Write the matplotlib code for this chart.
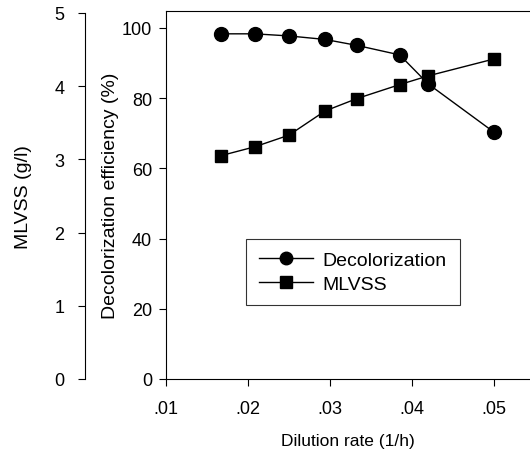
import matplotlib
matplotlib.use("Agg")
import matplotlib.pyplot as plt

plt.rcParams['font.family'] = ['Liberation Sans', 'DejaVu Sans']

dilution = [0.0167, 0.0208, 0.025, 0.0294, 0.0333, 0.0385, 0.042, 0.05]
decolorization = [98.3, 98.3, 97.7, 96.7, 95.0, 92.3, 84.0, 70.3]
mlvss = [3.05, 3.17, 3.33, 3.66, 3.83, 4.02, 4.14, 4.37]

x_ticks = [0.01, 0.02, 0.03, 0.04, 0.05]
x_ticklabels = ['.01', '.02', '.03', '.04', '.05']
dec_ticks = [0, 20, 40, 60, 80, 100]
ml_ticks = [0, 1, 2, 3, 4, 5]

fig = plt.figure(figsize=(5.3, 4.56), dpi=100)

W, H = 530, 456
ax = fig.add_axes([166 / W, (H - 380) / H, (530 - 166) / W, (380 - 12) / H])
ax2 = fig.add_axes([85 / W, (H - 380) / H, 0.0001, (380 - 14) / H])

ml_ylim = (0, 5)
dec_ylim = (0, 104.8)
ax.set_xlim(0.01, 0.0544)
ax.set_ylim(*dec_ylim)
ax2.set_ylim(*ml_ylim)

# MLVSS drawn on the main axes, mapped through the MLVSS axis scale
ml_top_in_dec = 100 * (380 - 14) / (380 - 29)
ml_as_dec = [(v - ml_ylim[0]) / (ml_ylim[1] - ml_ylim[0]) * ml_top_in_dec for v in mlvss]

ax.plot(dilution, decolorization, '-', color='black', lw=1.0, marker='o', ms=10,
        label='Decolorization')
ax.plot(dilution, ml_as_dec, '-', color='black', lw=1.0, marker='s', ms=9,
        label='MLVSS')

ax.set_xticks(x_ticks)
ax.set_xticklabels(x_ticklabels)
ax.set_yticks(dec_ticks)
ax.spines['right'].set_visible(False)
ax.spines['top'].set_linewidth(0.8)
ax.tick_params(axis='both', direction='out', length=5, width=0.8, labelsize=13)
ax.tick_params(axis='x', pad=10)
ax.tick_params(axis='y', pad=5)
ax.set_ylabel('Decolorization efficiency (%)', fontsize=14, labelpad=2)
ax.set_xlabel('Dilution rate (1/h)', fontsize=12.5, labelpad=12)

ax2.set_yticks(ml_ticks)
ax2.set_xticks([])
for s in ['right', 'top', 'bottom']:
    ax2.spines[s].set_visible(False)
ax2.tick_params(direction='out', length=5, width=0.8, labelsize=13, pad=10)
ax2.set_ylabel('MLVSS (g/l)', fontsize=14, labelpad=16)

leg = ax.legend(loc='upper left', bbox_to_anchor=((246 - 166) / 364, (380 - 240) / 368),
                frameon=True, fancybox=False, edgecolor='black', fontsize=14,
                handlelength=2.8, borderpad=0.65, labelspacing=0.3, handletextpad=0.5,
                borderaxespad=0, markerscale=0.9)
leg.get_frame().set_linewidth(0.8)

fig.savefig('out.png', dpi=100)
